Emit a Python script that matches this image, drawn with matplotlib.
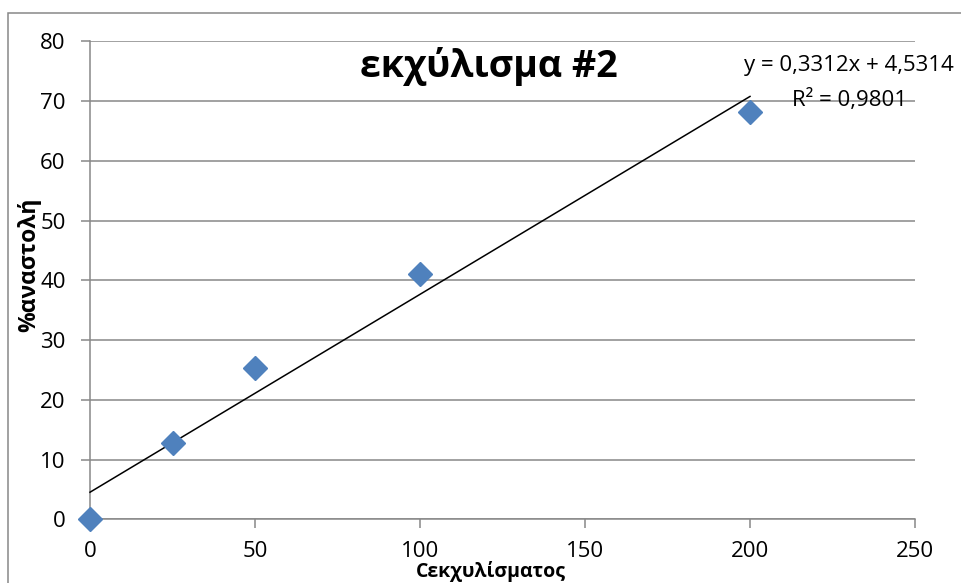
import matplotlib
matplotlib.use("Agg")
import matplotlib.pyplot as plt
from matplotlib.patches import Rectangle
import numpy as np

plt.rcParams['font.family'] = ['Open Sans', 'DejaVu Sans']

# Data
concentration = [0, 25, 50, 100, 200]
inhibition = [0, 12.7, 25.3, 41.0, 68.2]
slope = 0.3312
intercept = 4.5314
r_squared = 0.9801
x_ticks = [0, 50, 100, 150, 200, 250]
y_ticks = [0, 10, 20, 30, 40, 50, 60, 70, 80]
title = "εκχύλισμα #2"
x_label = "Cεκχυλίσματος"
y_label = "%αναστολή"

W, H = 961, 583
fig = plt.figure(figsize=(W / 100, H / 100), dpi=100)
ax = fig.add_axes([90 / W, 1 - 519.3 / H, (915 - 90) / W, (519.3 - 41.3) / H])

grey = '#888888'
ax.set_xlim(0, 250)
ax.set_ylim(0, 80)
ax.set_xticks(x_ticks)
ax.set_yticks(y_ticks)
ax.yaxis.grid(True, color=grey, lw=1.1)
ax.set_axisbelow(True)
for s in ['top', 'right']:
    ax.spines[s].set_visible(False)
for s in ['left', 'bottom']:
    ax.spines[s].set_color(grey)
    ax.spines[s].set_linewidth(1.1)
ax.tick_params(axis='both', direction='out', length=6.5, width=1.1, color=grey,
               labelsize=16, labelcolor='black')
ax.tick_params(axis='y', pad=11)
ax.tick_params(axis='x', pad=9)

# trendline
xl = np.array([min(concentration), max(concentration)])
ax.plot(xl, slope * xl + intercept, color='black', lw=1.1, zorder=3, clip_on=False)
ax.plot(concentration, inhibition, linestyle='none', marker='D', markersize=12.5,
        color='#4F81BD', zorder=4, clip_on=False)

eq = f"y = {slope:.4f}x + {intercept:.4f}".replace('.', ',')
r2 = f"R² = {r_squared:.4f}".replace('.', ',')
fig.text(849 / W, 1 - 65 / H, eq, ha='center', va='center', fontsize=16)
fig.text(849 / W, 1 - 100 / H, r2, ha='center', va='center', fontsize=16)

fig.text(489 / W, 1 - 67 / H, title, ha='center', va='center', fontsize=27,
         fontweight='bold')
fig.text(491 / W, 1.5 / H, x_label, ha='center', va='bottom', fontsize=14,
         fontweight='bold')
fig.text(29 / W, 1 - 265 / H, y_label, ha='center', va='center', fontsize=16.5,
         fontweight='bold', rotation=90)

fig.patches.append(Rectangle((8 / W, -0.1), 1.2, 1 - 13 / H + 0.1, transform=fig.transFigure,
                             fill=False, edgecolor=grey, lw=1.1))

fig.savefig('out.png', dpi=100)
